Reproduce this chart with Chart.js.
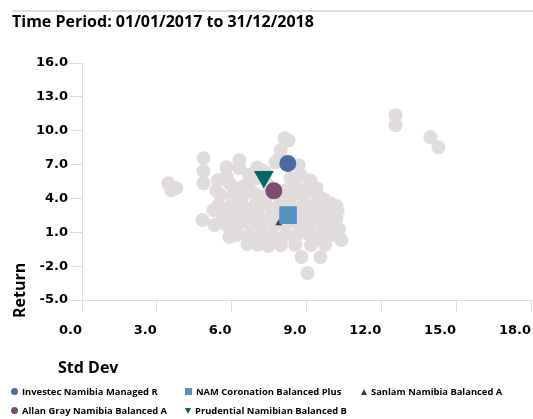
<!DOCTYPE html>
<html>
<head>
<meta charset="utf-8">
<script src="https://cdn.jsdelivr.net/npm/chart.js@4.4.1/dist/chart.umd.min.js"></script>
<style>
  body { margin: 0; background: #fff; }
  #wrap { position: relative; width: 533px; height: 419px; overflow: hidden; }
  #legend { position: absolute; left: 11px; top: 382px; display: grid;
    grid-template-columns: 174px 176px auto; grid-auto-rows: 19px;
    font: bold 9.4px "Open Sans", sans-serif; color: #000; }
  .item { display: flex; align-items: center; white-space: nowrap; }
  .mk { display: inline-block; margin-right: 4px; }
</style>
</head>
<body>
<div id="wrap">
  <canvas id="riskchart" width="533" height="419"></canvas>
  <div id="legend"></div>
</div>
<script>
// highlighted funds
var fundNames = ['Investec Namibia Managed R', 'NAM Coronation Balanced Plus', 'Sanlam Namibia Balanced A',
                 'Allan Gray Namibia Balanced A', 'Prudential Namibian Balanced B'];
var fundStdDev = [8.25, 8.26, 7.89, 7.69, 7.29];
var fundReturn = [7.1, 2.52, 1.79, 4.67, 5.93];
var fundColors = ['#4a6aa0', '#5592c0', '#34404f', '#7e4c70', '#006666'];
var fundShapes = ['circle', 'rect', 'triangle', 'circle', 'triangle'];

// peer universe (grey cloud)
var peerStdDev = [12.57, 12.57, 13.97, 14.29,
  3.46, 3.78, 3.58,
  4.87, 4.87, 4.87, 4.83, 5.31, 5.91, 6.63,
  5.79, 5.79, 6.31, 6.31, 5.39, 6.07, 6.67, 6.35, 5.27,
  7.47, 8.8, 9.56, 9.04, 10.4, 10.2, 10.2, 9.56, 9.16, 8.68, 8.12, 8.28, 7.84, 7.96, 9.64, 9.84, 9.08, 9.96, 7.76,
  5.55, 6.05, 6.5, 7.0, 7.45, 7.94, 8.46, 8.9, 9.42,
  5.47, 5.97, 6.41, 6.93, 7.38, 7.9, 8.35, 8.86, 9.3, 9.82,
  5.62, 6.12, 6.6, 7.05, 7.58, 8.03, 8.54, 8.98, 9.5, 9.95,
  5.8, 6.25, 6.77, 7.22, 7.74, 8.18, 8.7, 9.15, 9.66, 10.1,
  6.2, 6.66, 7.16, 7.62, 8.14, 8.58, 9.1, 9.55, 10.02,
  7.05, 7.97, 8.55, 9.18, 9.75,
  6.99, 7.23, 7.47, 8.36, 8.6, 8.2, 6.83, 8.76,
  5.45, 5.92, 6.7, 7.02, 6.55, 7.35, 9.4, 8.95, 9.7, 10.25, 10.3];
var peerReturn = [11.37, 10.49, 9.42, 8.54,
  5.35, 4.91, 4.73,
  7.57, 6.42, 5.35, 2.08, 1.64, 0.58, -0.04,
  6.77, 5.97, 7.39, 6.68, 4.73, 5.0, 5.44, 4.91, 2.96,
  -0.22, -1.19, -1.19, -2.61, 0.31, 3.32, 2.26, 4.03, 5.62, 6.95, 9.34, 9.16, 7.39, 8.27, 0.31, 1.81, 5.09, 3.58, 7.21,
  4.3, 4.25, 4.33, 4.28, 4.31, 4.24, 4.3, 4.27, 4.32,
  3.42, 3.38, 3.45, 3.4, 3.43, 3.37, 3.41, 3.44, 3.39, 3.4,
  2.5, 2.55, 2.48, 2.53, 2.5, 2.54, 2.49, 2.52, 2.51, 2.47,
  1.65, 1.6, 1.66, 1.62, 1.64, 1.67, 1.61, 1.65, 1.63, 1.6,
  0.76, 0.72, 0.78, 0.74, 0.75, 0.73, 0.77, 0.74, 0.76,
  -0.12, -0.15, -0.1, -0.14, -0.11,
  5.8, 6.5, 5.18, 5.8, 4.91, 4.73, 4.56, 6.06,
  5.62, 5.35, 6.1, 6.75, 5.15, 6.3, 4.9, 4.6, 3.9, 2.9, 1.3];

var xTitle = 'Std Dev';
var yTitle = 'Return';
var periodTitle = 'Time Period: 01/01/2017 to 31/12/2018';

var pairs = function (xs, ys) { return xs.map(function (x, i) { return { x: x, y: ys[i] }; }); };
var fundRadius = [8.5, 12.5, 4, 8.5, 11.5];

var datasets = fundNames.map(function (name, i) {
  return {
    label: name,
    data: [{ x: fundStdDev[i], y: fundReturn[i] }],
    pointStyle: fundShapes[i],
    pointRotation: i === 4 ? 180 : 0,
    pointRadius: fundRadius[i],
    backgroundColor: fundColors[i],
    borderColor: fundColors[i],
    pointBorderWidth: 0
  };
});
datasets.push({
  label: 'Peers',
  data: pairs(peerStdDev, peerReturn),
  pointRadius: 7,
  backgroundColor: '#e0dcdb',
  borderColor: '#e0dcdb',
  pointBorderWidth: 0
});

var extraText = {
  id: 'extraText',
  afterDraw: function (chart) {
    var ctx = chart.ctx;
    ctx.save();
    ctx.strokeStyle = '#dddddd';
    ctx.lineWidth = 2;
    ctx.beginPath(); ctx.moveTo(12, 11); ctx.lineTo(533, 11); ctx.stroke();
    ctx.fillStyle = '#000';
    ctx.textBaseline = 'middle';
    ctx.textAlign = 'left';
    ctx.font = 'bold 16px "Open Sans"';
    ctx.fillText(periodTitle, 12, 22);
    ctx.fillText(xTitle, 58, 368);
    ctx.translate(20, 318);
    ctx.rotate(-Math.PI / 2);
    ctx.fillText(yTitle, 0, 0);
    ctx.restore();
  }
};

var tickFont = { family: 'DejaVu Sans', weight: 'bold', size: 13 };
var fmt = function (v) { return Number(v).toFixed(1); };

new Chart(document.getElementById('riskchart').getContext('2d'), {
  type: 'scatter',
  data: { datasets: datasets },
  options: {
    responsive: false,
    animation: false,
    layout: { autoPadding: false, padding: { top: 63, right: 2, left: 0, bottom: 0 } },
    plugins: { legend: { display: false }, tooltip: { enabled: false } },
    scales: {
      x: {
        min: 0, max: 18,
        ticks: { stepSize: 3, callback: fmt, font: tickFont, color: '#000', align: 'end', padding: 11, maxRotation: 0 },
        grid: { drawOnChartArea: false, tickLength: 12, color: '#dddddd' },
        border: { color: '#dddddd' },
        afterFit: function (s) { s.height = 119; s.paddingRight = 0; s.paddingLeft = 0; }
      },
      y: {
        min: -5, max: 16,
        ticks: { stepSize: 3, callback: fmt, font: tickFont, color: '#000', padding: 2 },
        grid: { drawOnChartArea: false, tickLength: 12, color: '#dddddd' },
        border: { color: '#dddddd' },
        afterFit: function (s) { s.width = 82; }
      }
    }
  },
  plugins: [extraText]
});

// html legend in a 3-column grid
var legend = document.getElementById('legend');
fundNames.forEach(function (name, i) {
  var item = document.createElement('div');
  item.className = 'item';
  var mk = document.createElement('span');
  mk.className = 'mk';
  var c = fundColors[i];
  if (fundShapes[i] === 'circle') {
    mk.style.cssText = 'width:7px;height:7px;border-radius:50%;background:' + c;
  } else if (fundShapes[i] === 'rect') {
    mk.style.cssText = 'width:7px;height:7px;background:' + c;
  } else if (i === 4) {
    mk.style.cssText = 'width:0;height:0;border-left:3px solid transparent;border-right:3px solid transparent;border-top:6px solid ' + c;
  } else {
    mk.style.cssText = 'width:0;height:0;border-left:3px solid transparent;border-right:3px solid transparent;border-bottom:6px solid ' + c;
  }
  item.appendChild(mk);
  item.appendChild(document.createTextNode(name));
  legend.appendChild(item);
});
</script>
</body>
</html>
